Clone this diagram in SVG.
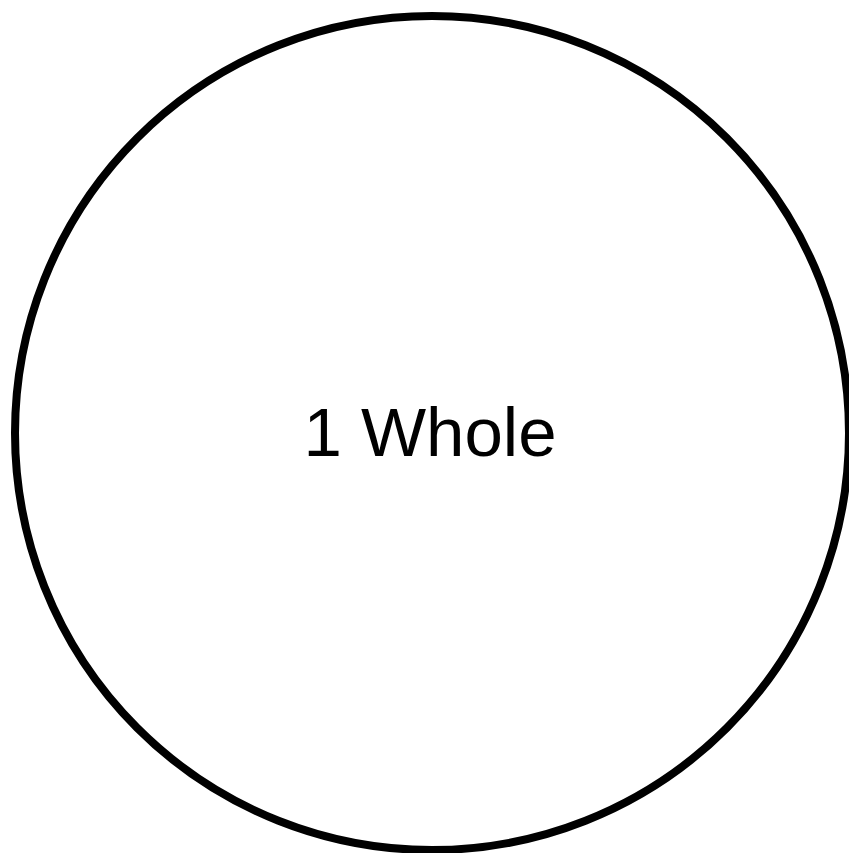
<svg xmlns="http://www.w3.org/2000/svg" width="849" height="853" viewBox="0 0 849 853">
<style>
.ring{fill:#ffffff;stroke:#000000;stroke-width:8}
.lbl{font-family:"Liberation Sans",Arial,sans-serif;font-size:69px;fill:#000000;text-anchor:middle}
</style>
<rect width="849" height="853" fill="#ffffff"/>
<g id="whole">
<circle class="ring" cx="432" cy="433" r="417"/>
<text class="lbl" x="430" y="456">1 Whole</text>
</g>
</svg>
